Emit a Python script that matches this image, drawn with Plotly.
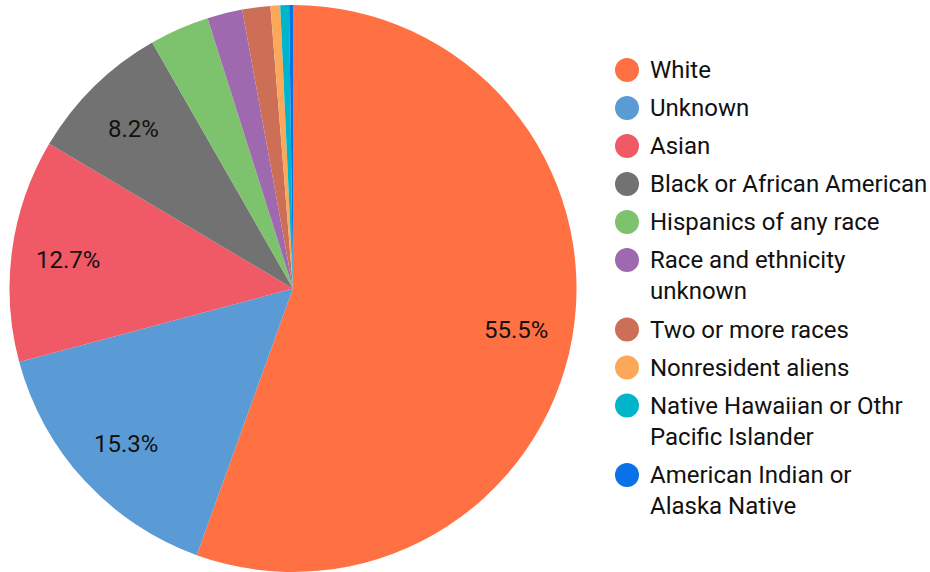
import math
import plotly.graph_objects as go

categories = ["White", "Unknown", "Asian", "Black or African American",
              "Hispanics of any race", "Race and ethnicity unknown",
              "Two or more races", "Nonresident aliens",
              "Native Hawaiian or Othr Pacific Islander",
              "American Indian or Alaska Native"]
legend_labels = ["White", "Unknown", "Asian", "Black or African American",
                 "Hispanics of any race", "Race and ethnicity<br>unknown",
                 "Two or more races", "Nonresident aliens",
                 "Native Hawaiian or Othr<br>Pacific Islander",
                 "American Indian or<br>Alaska Native"]
values = [55.5, 15.3, 12.7, 8.2, 3.4, 2.0, 1.6, 0.55, 0.5, 0.22]
colors = ["#FF7043", "#5B9BD5", "#EF5A66", "#727272", "#7DC26D",
          "#9E69AF", "#CD6F57", "#FBA85B", "#00B5C9", "#0A72E8"]

FONT = "Roboto"
W, H = 930, 572
CX, CY, R = 293, 288.5, 283.5   # pie placement (layout)

fig = go.Figure()
fig.add_trace(go.Pie(
    labels=categories, values=values,
    textinfo="none",
    sort=False, direction="clockwise", rotation=0,
    marker=dict(colors=colors, line=dict(width=0)),
    showlegend=False, hoverinfo="label+percent",
    domain=dict(x=[(CX - R) / W, (CX + R) / W],
                y=[1 - (CY + R) / H, 1 - (CY - R) / H]),
))

# percentage labels for the larger slices, placed at ~0.8 of the radius
total = sum(values)
annotations = []
cum = 0.0
for v in values:
    mid = (cum + v / 2) / total * 2 * math.pi
    cum += v
    if v >= 5:
        annotations.append(dict(
            x=CX + 0.8 * R * math.sin(mid),
            y=CY - 0.8 * R * math.cos(mid) + 2,
            xref="x", yref="y", text=f"{v}%", showarrow=False,
            xanchor="center", yanchor="middle",
            font=dict(family=FONT, size=24, color="#111111"),
        ))

# custom legend with round markers
ys = []
extra = 0
for i, lab in enumerate(legend_labels):
    ys.append(70 + 38 * i + 31.5 * extra)
    extra += lab.count("<br>")
text_ys = [y + 2 + 15.8 * lab.count("<br>") for y, lab in zip(ys, legend_labels)]

fig.add_trace(go.Scatter(
    x=[627] * len(ys), y=ys, mode="markers",
    marker=dict(size=24, color=colors, line=dict(width=0)),
    showlegend=False, hoverinfo="skip",
))
fig.add_trace(go.Scatter(
    x=[650] * len(ys), y=text_ys, mode="text", text=legend_labels,
    textposition="middle right",
    textfont=dict(family=FONT, size=24, color="#111111"),
    showlegend=False, hoverinfo="skip",
))

fig.update_layout(
    width=W, height=H,
    margin=dict(l=0, r=0, t=0, b=0),
    paper_bgcolor="white", plot_bgcolor="rgba(0,0,0,0)",
    xaxis=dict(range=[0, W], visible=False, fixedrange=True, domain=[0, 1]),
    yaxis=dict(range=[H, 0], visible=False, fixedrange=True, domain=[0, 1]),
    font=dict(family=FONT),
    annotations=annotations,
)

fig.write_html("out.html", config={"displayModeBar": False},
               post_script="document.body.style.margin='0px';")
